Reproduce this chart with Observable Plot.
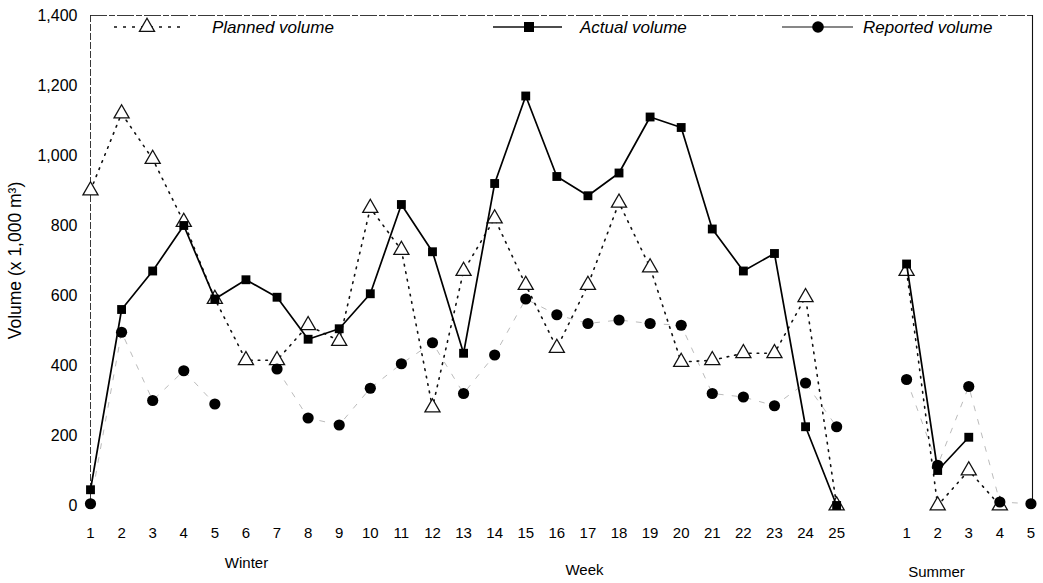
<!DOCTYPE html>
<html>
<head>
<meta charset="utf-8">
<script src="https://cdn.jsdelivr.net/npm/d3@7"></script>
<script src="https://cdn.jsdelivr.net/npm/@observablehq/plot@0.6"></script>
<style>
  html, body { margin: 0; padding: 0; background: #fff; }
  #wrap { position: relative; width: 1043px; height: 583px; }
  #legend { position: absolute; left: 0; top: 0; pointer-events: none; }
</style>
</head>
<body>
<div id="wrap"></div>
<script>
// ---- data ----
const winterWeeks = [1,2,3,4,5,6,7,8,9,10,11,12,13,14,15,16,17,18,19,20,21,22,23,24,25];
const summerWeeks = [1,2,3,4,5];

const plannedWinter  = [900,1120,990,810,590,415,415,515,470,850,730,280,670,820,630,450,630,865,680,410,415,435,435,595,0];
const plannedSummer  = [670,0,100,0,null];

const actualWinter   = [45,560,670,800,590,645,595,475,505,605,860,725,435,920,1170,940,885,950,1110,1080,790,670,720,225,0];
const actualSummer   = [690,100,195,null,null];

const reportedWinter = [5,495,300,385,290,null,390,250,230,335,405,465,320,430,590,545,520,530,520,515,320,310,285,350,225];
const reportedSummer = [360,115,340,10,5];

const yTicks = [0,200,400,600,800,1000,1200,1400];
const seasonLabels = ["Winter", "Week", "Summer"];
const yLabel = "Volume (x 1,000 m³)";
const legendLabels = ["Planned volume", "Actual volume", "Reported volume"];

// ---- layout helpers ----
const summerOffset = 26.25;           // gap between the two seasons on the x axis
const pos = (season, w) => season === "Winter" ? w : w + summerOffset;

function rows(winter, summer) {
  const out = [];
  winterWeeks.forEach((w, i) => out.push({season: "Winter", week: w, x: pos("Winter", w), y: winter[i]}));
  summerWeeks.forEach((w, i) => out.push({season: "Summer", week: w, x: pos("Summer", w), y: summer[i]}));
  return out;
}
const planned = rows(plannedWinter, plannedSummer);
const actual = rows(actualWinter, actualSummer);
const reported = rows(reportedWinter, reportedSummer);
const valid = d => d.y != null;

const tickPos = [...winterWeeks.map(w => pos("Winter", w)), ...summerWeeks.map(w => pos("Summer", w))];
const tickText = new Map([...winterWeeks.map(w => [pos("Winter", w), String(w)]), ...summerWeeks.map(w => [pos("Summer", w), String(w)])]);

const font = "'Liberation Sans', Arial, Helvetica, sans-serif";

const chart = Plot.plot({
  width: 1043,
  height: 583,
  marginLeft: 90,
  marginRight: 11,
  marginTop: 15,
  marginBottom: 78,
  style: {fontFamily: font, fontSize: "15px", background: "white", color: "black"},
  x: {domain: [1, 31.3]},
  y: {domain: [0, 1400]},
  marks: [
    Plot.frame({anchor: "top", stroke: "#222", strokeWidth: 0.9, strokeDasharray: "16,3,5,3"}),
    Plot.frame({anchor: "left", stroke: "#222", strokeWidth: 0.9, strokeDasharray: "6,3"}),
    Plot.frame({anchor: "right", stroke: "#111", strokeWidth: 1.1}),
    Plot.axisY({ticks: yTicks, tickFormat: d3.format(","), tickSize: 0, tickPadding: 13, label: null, fontSize: 16}),
    Plot.axisX({ticks: tickPos, tickFormat: d => tickText.get(d), tickSize: 0, tickPadding: 22, label: null, fontSize: 15}),
    Plot.text([yLabel], {text: d => d, frameAnchor: "left", textAnchor: "middle", dx: -75, rotate: -90, fontSize: 17.5}),
    Plot.text([seasonLabels[0]], {text: d => d, frameAnchor: "bottom", dx: -315, dy: 62, fontSize: 15}),
    Plot.text([seasonLabels[1]], {text: d => d, frameAnchor: "bottom", dx: 23, dy: 69, fontSize: 15}),
    Plot.text([seasonLabels[2]], {text: d => d, frameAnchor: "bottom", dx: 375, dy: 71, fontSize: 15}),
    // reported (faint connecting line)
    Plot.line(reported, {x: "x", y: "y", z: "season", stroke: "#aaa", strokeWidth: 0.8, strokeDasharray: "5,9"}),
    // planned
    Plot.line(planned, {x: "x", y: "y", z: "season", stroke: "#111", strokeWidth: 1.6, strokeDasharray: "1.6,6", strokeLinecap: "round"}),
    Plot.dot(planned.filter(valid), {x: "x", y: "y", symbol: "triangle", r: 5.6, fill: "white", stroke: "#111", strokeWidth: 1.3}),
    // actual
    Plot.line(actual, {x: "x", y: "y", z: "season", stroke: "#000", strokeWidth: 1.7}),
    Plot.dot(actual.filter(valid), {x: "x", y: "y", symbol: "square", r: 5, fill: "#000", stroke: "none"}),
    // reported dots
    Plot.dot(reported.filter(valid), {x: "x", y: "y", r: 5.6, fill: "#000", stroke: "none"})
  ]
});
document.getElementById("wrap").appendChild(chart);

// ---- legend (inside the top of the frame) ----
const lg = d3.select("#wrap").append("svg").attr("id", "legend")
  .attr("width", 1043).attr("height", 50)
  .style("font-family", font);
const items = [
  {x1: 114, x2: 183, sx: 147, tx: 212, kind: "planned"},
  {x1: 493, x2: 562, sx: 529, tx: 580, kind: "actual"},
  {x1: 782, x2: 853, sx: 818, tx: 863, kind: "reported"}
];
const ly = 27;
items.forEach((it, i) => {
  const g = lg.append("g");
  const line = g.append("line").attr("x1", it.x1).attr("x2", it.x2).attr("y1", ly).attr("y2", ly).attr("stroke", "#111");
  if (it.kind === "planned") {
    line.attr("stroke-width", 1.6).attr("stroke-dasharray", "3,6");
    g.append("path").attr("d", d3.symbol(d3.symbolTriangle, Math.PI * 5.6 * 5.6)()).attr("transform", `translate(${it.sx},${ly})`)
      .attr("fill", "white").attr("stroke", "#111").attr("stroke-width", 1.3);
  } else if (it.kind === "actual") {
    line.attr("stroke-width", 1.6);
    g.append("rect").attr("x", it.sx - 5).attr("y", ly - 5).attr("width", 10).attr("height", 10).attr("fill", "#000");
  } else {
    line.attr("stroke-width", 1.2);
    g.append("circle").attr("cx", it.sx).attr("cy", ly).attr("r", 5.8).attr("fill", "#000");
  }
  g.append("text").attr("x", it.tx).attr("y", ly).attr("dy", "0.35em")
    .attr("font-size", 17).attr("font-style", "italic").text(legendLabels[i]);
});
</script>
</body>
</html>
